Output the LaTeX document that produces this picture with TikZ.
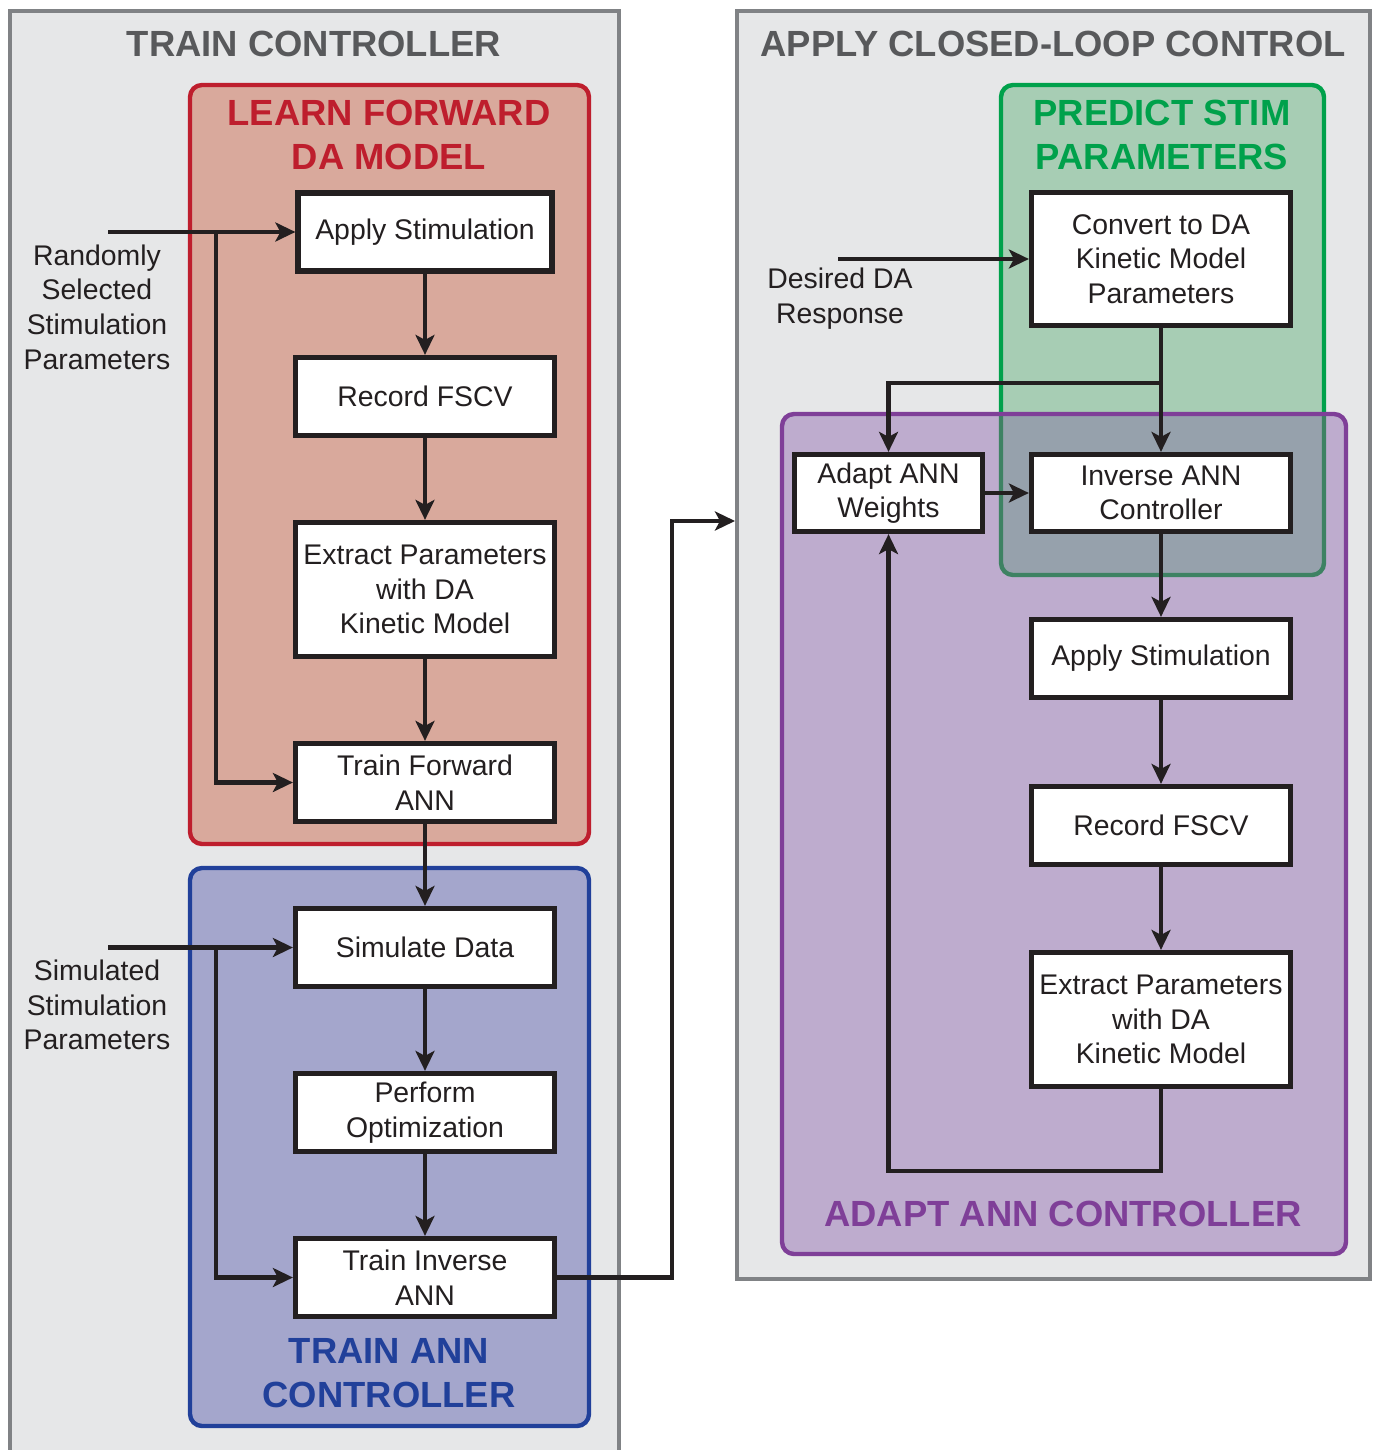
\documentclass[tikz,border=0pt]{standalone}
\usepackage{fontspec}
\setmainfont{Liberation Sans}
\usetikzlibrary{arrows.meta}
\definecolor{panelgray}{HTML}{E6E7E8}
\definecolor{panelline}{HTML}{808285}
\definecolor{titlegray}{HTML}{58595B}
\definecolor{redline}{HTML}{BE1E2D}
\definecolor{redfill}{HTML}{D9A99C}
\definecolor{blueline}{HTML}{21409A}
\definecolor{bluefill}{HTML}{A4A6CC}
\definecolor{greenline}{HTML}{00A14B}
\definecolor{greenfill}{HTML}{A7CDB4}
\definecolor{purpleline}{HTML}{7F3F98}
\definecolor{purplefill}{HTML}{BEACCE}
\definecolor{overlapfill}{HTML}{96A1AC}
\definecolor{overlapline}{HTML}{3E8263}
\definecolor{ink}{HTML}{231F20}
\newcommand{\boxfont}{\fontsize{14.2}{17.3}\selectfont}
\newcommand{\headfont}{\fontsize{18.2}{22}\selectfont\bfseries}
\begin{document}
\begin{tikzpicture}[x=0.5pt,y=-0.5pt,
  outerpanel/.style={fill=panelgray,draw=panelline,line width=2.2pt},
  grouppanel/.style={line width=2.2pt,rounded corners=6pt},
  stepbox/.style={draw=ink,line width=2.6pt,fill=white,align=center,inner sep=0pt,font=\boxfont,text=ink},
  lbl/.style={align=center,inner sep=0pt,font=\boxfont,text=ink},
  head/.style={align=center,inner sep=0pt,font=\headfont},
  conn/.style={draw=ink,line width=2.4pt},
  arr/.style={conn,-{Stealth[length=10pt,width=9.5pt,inset=2.5pt]}}
]
\useasboundingbox (0,0) rectangle (1377,1450);
\clip (0,0) rectangle (1377,1450);
\fill[white] (0,0) rectangle (1377,1450);

% outer panels
\draw[outerpanel] (10,11) rectangle (619,1475);
\draw[outerpanel] (737,11) rectangle (1370,1279);

% red and blue panels
\draw[grouppanel,fill=redfill,draw=redline] (190,85) rectangle (589,844);
\draw[grouppanel,fill=bluefill,draw=blueline] (190,868) rectangle (589,1426);

% green and purple panels with overlap
\draw[grouppanel,fill=greenfill,draw=greenline] (1001,85) rectangle (1324,575);
\fill[grouppanel,fill=purplefill] (782,414) rectangle (1346,1254);
\begin{scope}
  \clip[rounded corners=6pt] (782,414) rectangle (1346,1254);
  \draw[grouppanel,fill=overlapfill,draw=overlapline] (1001,85) rectangle (1324,575);
\end{scope}
\draw[grouppanel,draw=purpleline] (782,414) rectangle (1346,1254);

% titles
\node[head,text=titlegray] (t1) at (314,44) {TRAIN CONTROLLER};
\node[head,text=titlegray] (t2) at (1053,44) {APPLY CLOSED-LOOP CONTROL};
\node[head,text=redline] (t3) at (389,135) {LEARN FORWARD\\DA MODEL};
\node[head,text=blueline] (t4) at (389,1373) {TRAIN ANN\\CONTROLLER};
\node[head,text=greenline] (t5) at (1162,135) {PREDICT STIM\\PARAMETERS};
\node[head,text=purpleline] (t6) at (1063,1214) {ADAPT ANN CONTROLLER};

% left boxes
\node[stepbox,minimum width=127pt,minimum height=39pt] (stimL) at (425,232) {Apply Stimulation};
\node[stepbox,minimum width=129.5pt,minimum height=39pt] (fscvL) at (425,396.5) {Record FSCV};
\node[stepbox,minimum width=129.5pt,minimum height=67pt] (extL) at (425,589.5) {Extract Parameters\\with DA\\Kinetic Model};
\node[stepbox,minimum width=129.5pt,minimum height=39pt] (trainF) at (425,782.5) {Train Forward\\ANN};
\node[stepbox,minimum width=129.5pt,minimum height=39pt] (sim) at (425,947.5) {Simulate Data};
\node[stepbox,minimum width=129.5pt,minimum height=39pt] (opt) at (425,1112.5) {Perform\\Optimization};
\node[stepbox,minimum width=129.5pt,minimum height=39pt] (trainI) at (425,1277.5) {Train Inverse\\ANN};

% right boxes
\node[stepbox,minimum width=129.5pt,minimum height=66.5pt] (conv) at (1161,259) {Convert to DA\\Kinetic Model\\Parameters};
\node[stepbox,minimum width=94pt,minimum height=38.5pt] (adapt) at (888.5,493) {Adapt ANN\\Weights};
\node[stepbox,minimum width=129.5pt,minimum height=38.5pt] (inv) at (1161,493) {Inverse ANN\\Controller};
\node[stepbox,minimum width=129.5pt,minimum height=39pt] (stimR) at (1161,658.5) {Apply Stimulation};
\node[stepbox,minimum width=129.5pt,minimum height=39pt] (fscvR) at (1161,825.5) {Record FSCV};
\node[stepbox,minimum width=129.5pt,minimum height=67pt] (extR) at (1161,1019.5) {Extract Parameters\\with DA\\Kinetic Model};

% side labels
\node[lbl] (lA) at (97,307) {Randomly\\Selected\\Stimulation\\Parameters};
\node[lbl] (lB) at (97,1005) {Simulated\\Stimulation\\Parameters};
\node[lbl] (lC) at (840,298.5) {Desired DA\\Response};

% coordinates
\coordinate (inA) at (108,232);
\coordinate (jA) at (216,232);
\coordinate (inB) at (108,947.5);
\coordinate (jB) at (216,947.5);
\coordinate (bendT) at (672,521);
\coordinate (rpIn) at (735,521);
\coordinate (inC) at (838,259);
\coordinate (jC) at (1161,383);
\coordinate (jD) at (1161,1171);

% left connectors
\draw[arr] (inA) -- (stimL.west);
\draw[arr] (jA) |- (trainF.west);
\draw[arr] (stimL.south) -- (fscvL.north);
\draw[arr] (fscvL.south) -- (extL.north);
\draw[arr] (extL.south) -- (trainF.north);
\draw[arr] (trainF.south) -- (sim.north);
\draw[arr] (inB) -- (sim.west);
\draw[arr] (jB) |- (trainI.west);
\draw[arr] (sim.south) -- (opt.north);
\draw[arr] (opt.south) -- (trainI.north);
\draw[arr] (trainI.east) -| (bendT) -- (rpIn);

% right connectors
\draw[arr] (inC) -- (conv.west);
\draw[arr] (conv.south) -- (inv.north);
\draw[arr] (jC) -| (adapt.north);
\draw[arr] (adapt.east) -- (inv.west);
\draw[arr] (inv.south) -- (stimR.north);
\draw[arr] (stimR.south) -- (fscvR.north);
\draw[arr] (fscvR.south) -- (extR.north);
\draw[arr] (extR.south) -- (jD) -| (adapt.south);
\end{tikzpicture}
\end{document}
